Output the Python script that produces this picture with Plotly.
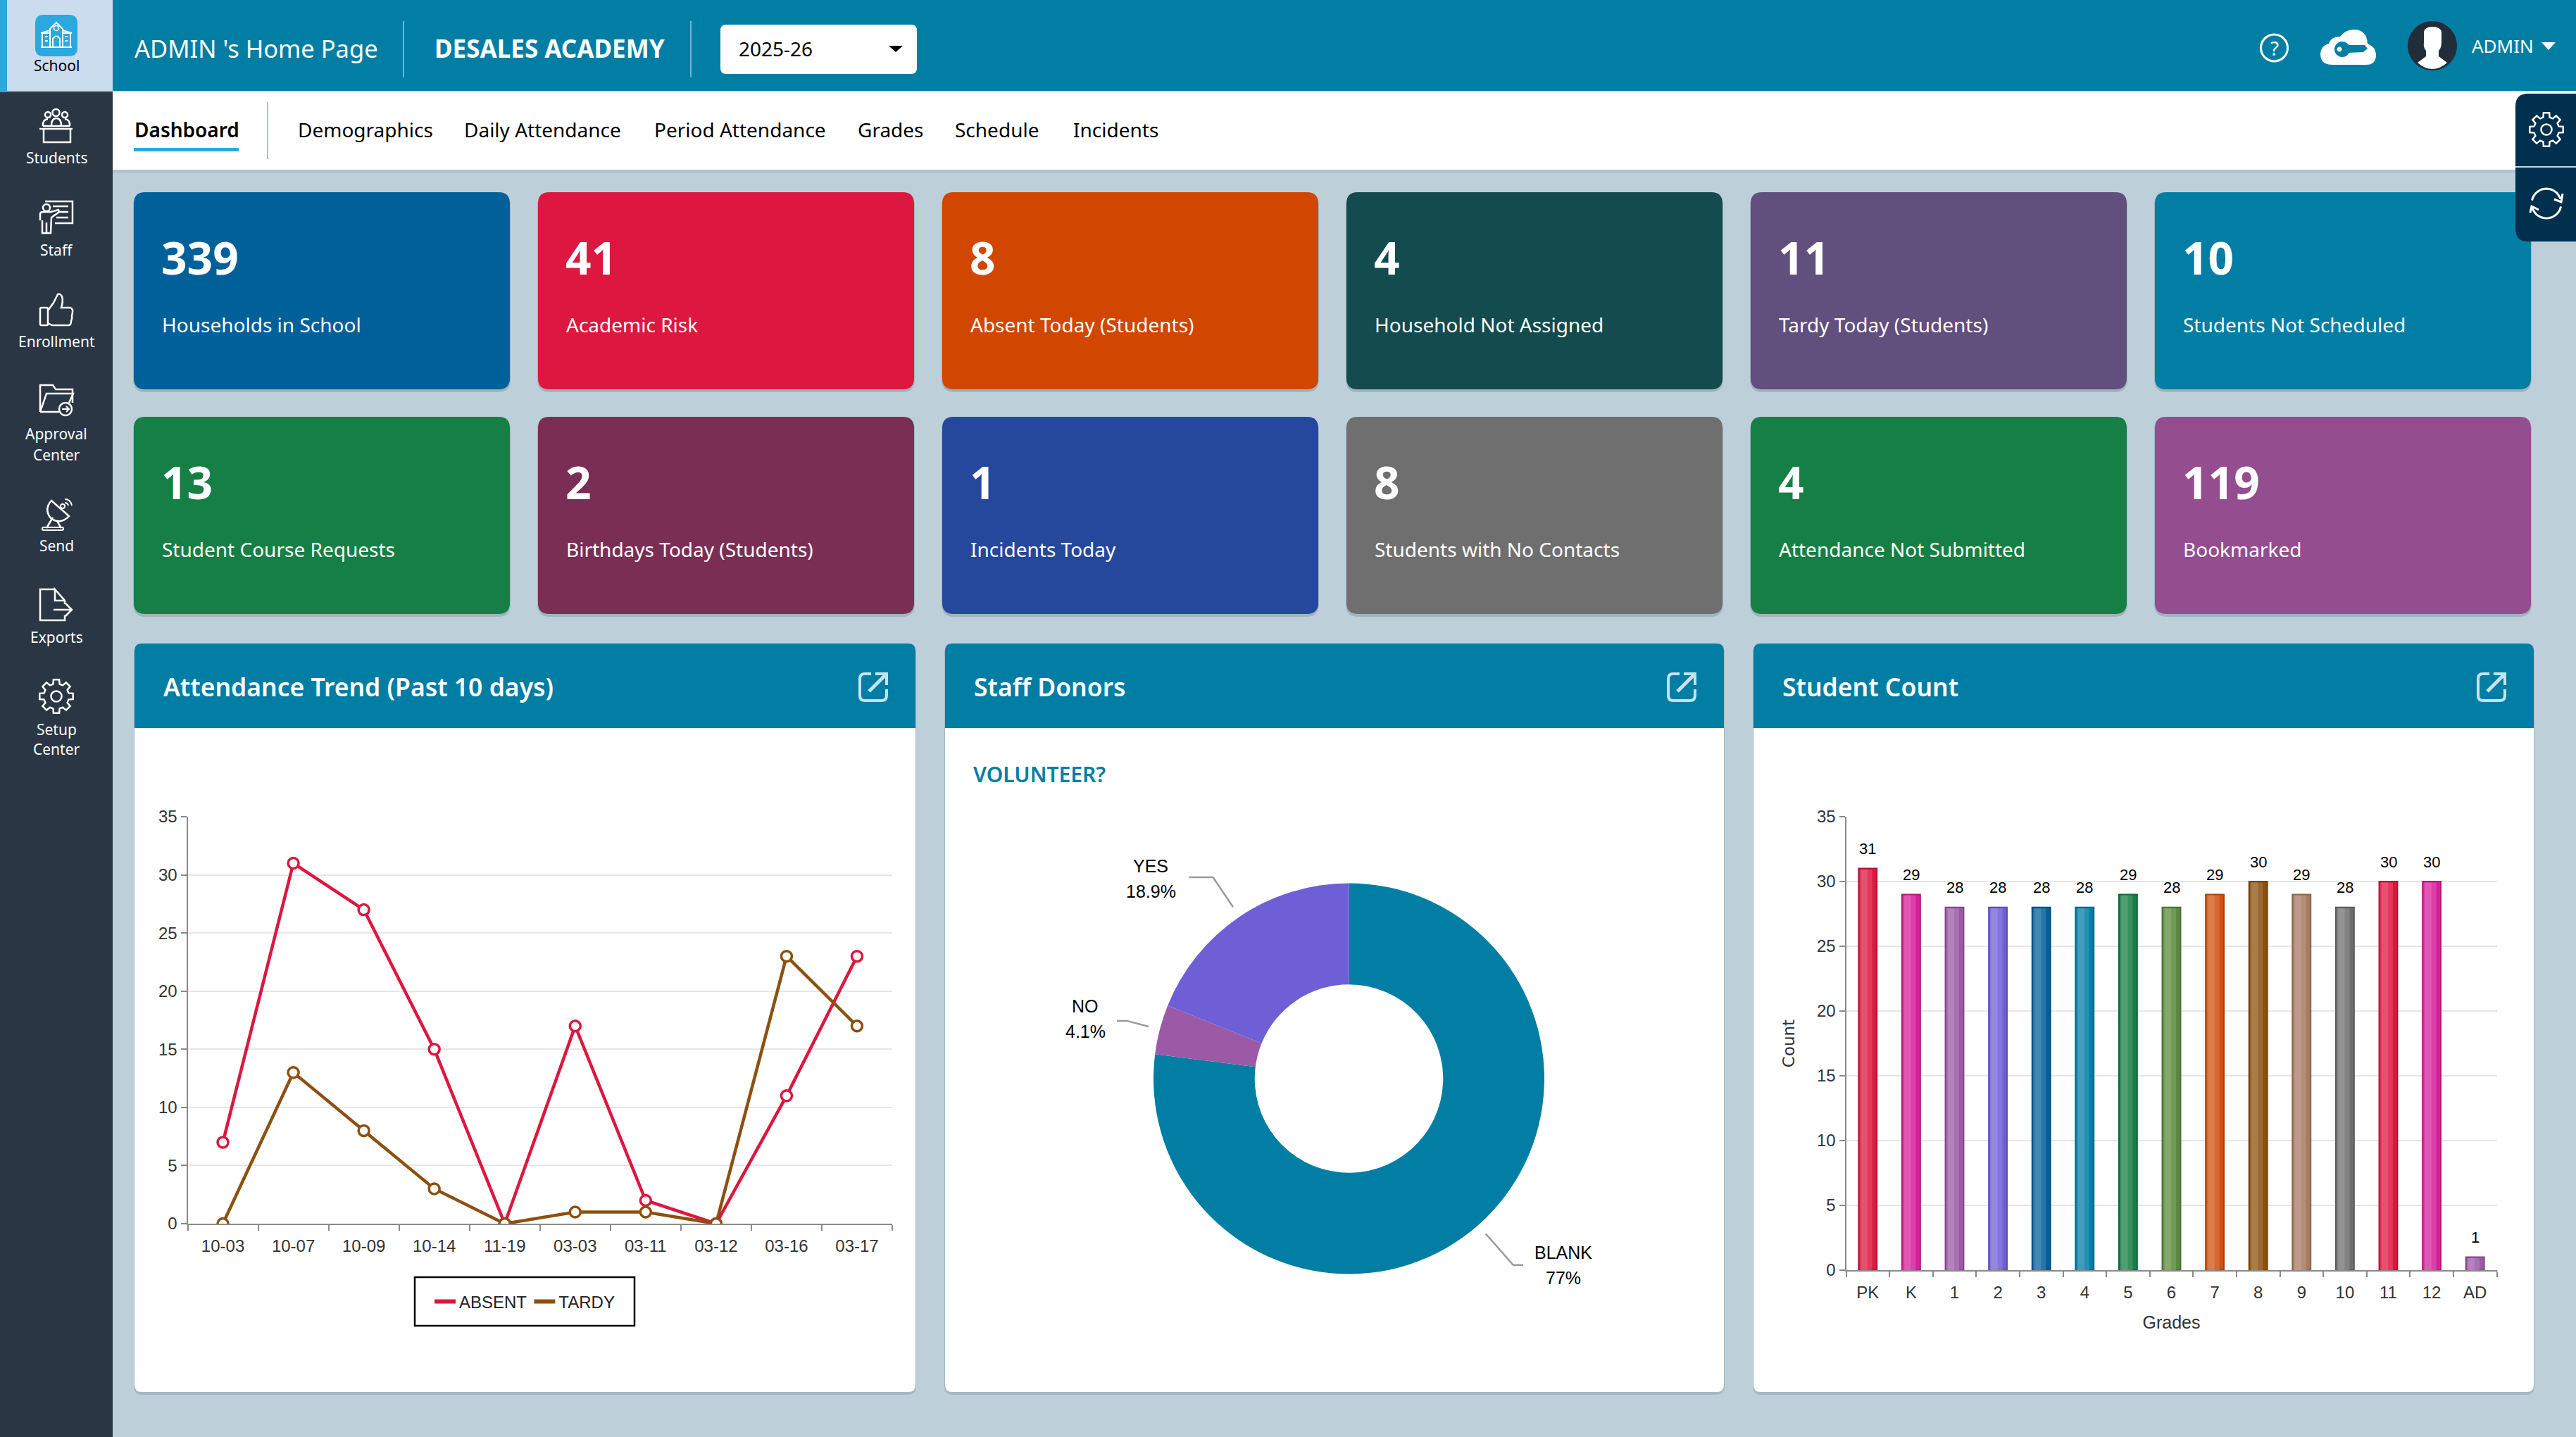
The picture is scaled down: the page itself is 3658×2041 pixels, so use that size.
import re
import numpy as np
import plotly.graph_objects as go

W, H = 3658, 2041
UI_FONT = "Noto Sans"
CHART_FONT = "Liberation Sans"

# data
card_values = ["339", "41", "8", "4", "11", "10", "13", "2", "1", "8", "4", "119"]
card_labels = ["Households in School", "Academic Risk", "Absent Today (Students)",
               "Household Not Assigned", "Tardy Today (Students)", "Students Not Scheduled",
               "Student Course Requests", "Birthdays Today (Students)", "Incidents Today",
               "Students with No Contacts", "Attendance Not Submitted", "Bookmarked"]
card_colors = ["#00609a", "#dd173f", "#d14600", "#134b4e", "#614f7e", "#027ea4",
               "#167f45", "#7a2e53", "#25489c", "#6f6f6f", "#167f45", "#944d8f"]

days = ["10-03", "10-07", "10-09", "10-14", "11-19", "03-03", "03-11", "03-12", "03-16", "03-17"]
absent = [7, 31, 27, 15, 0, 17, 2, 0, 11, 23]
tardy = [0, 13, 8, 3, 0, 1, 1, 0, 23, 17]

volunteer_labels = ["BLANK", "NO", "YES"]
volunteer_pct = [77, 4.1, 18.9]
volunteer_colors = ["#027ea4", "#9b59a6", "#6f5fd6"]

grades = ["PK", "K", "1", "2", "3", "4", "5", "6", "7", "8", "9", "10", "11", "12", "AD"]
counts = [31, 29, 28, 28, 28, 28, 29, 28, 29, 30, 29, 28, 30, 30, 1]
grade_colors = ["#dd173f", "#d6209a", "#9b59a6", "#6f5fd6", "#01609a", "#027ea4", "#167f45", "#5a8a3c",
                "#d14f10", "#8c5010", "#a87a60", "#6f6f6f", "#dd173f", "#d6209a", "#9b59a6"]

nav_items = ["Demographics", "Daily Attendance", "Period Attendance", "Grades", "Schedule", "Incidents"]
nav_x = [422, 658, 928, 1217, 1355, 1523]
side_items = [("Students", 224), ("Staff", 355), ("Enrollment", 485), ("Approval", 616), ("Center", 646),
              ("Send", 775), ("Exports", 905), ("Setup", 1036), ("Center", 1064)]

TEAL = "#027ea4"
shapes = []
notes = []


def to_paper(d):
    # path strings are written in screen pixels, shapes want paper coordinates
    out, is_x = [], True
    for tok in re.findall(r"[A-Za-z]|-?[\d.]+", d):
        if tok.isalpha():
            out.append(tok)
            is_x = True
        else:
            v = float(tok)
            out.append(f"{v / W:.6f}," if is_x else f"{1 - v / H:.6f}")
            is_x = not is_x
    return " ".join(out).replace(", ", ",")


def path(d, fill=None, line=None, width=0):
    shapes.append(dict(type="path", path=to_paper(d), xref="paper", yref="paper", layer="below",
                       fillcolor=fill or "rgba(0,0,0,0)",
                       line=dict(color=line or "rgba(0,0,0,0)", width=width)))


def round_rect(x0, y0, x1, y1, r, tl=True, tr=True, br=True, bl=True):
    d = f"M {x0 + (r if tl else 0)} {y0} L {x1 - (r if tr else 0)} {y0} "
    if tr:
        d += f"Q {x1} {y0} {x1} {y0 + r} "
    d += f"L {x1} {y1 - (r if br else 0)} "
    if br:
        d += f"Q {x1} {y1} {x1 - r} {y1} "
    d += f"L {x0 + (r if bl else 0)} {y1} "
    if bl:
        d += f"Q {x0} {y1} {x0} {y1 - r} "
    d += f"L {x0} {y0 + (r if tl else 0)} "
    if tl:
        d += f"Q {x0} {y0} {x0 + r} {y0} "
    return d + "Z"


def circle(cx, cy, r):
    k = 0.5523 * r
    return (f"M {cx - r} {cy} C {cx - r} {cy - k} {cx - k} {cy - r} {cx} {cy - r} "
            f"C {cx + k} {cy - r} {cx + r} {cy - k} {cx + r} {cy} "
            f"C {cx + r} {cy + k} {cx + k} {cy + r} {cx} {cy + r} "
            f"C {cx - k} {cy + r} {cx - r} {cy + k} {cx - r} {cy} Z")


def gear(cx, cy, r_out, r_in, color, width):
    pts = []
    for i in range(8):
        a = i * np.pi / 4
        for da, r in [(-0.26, r_in), (-0.17, r_out), (0.17, r_out), (0.26, r_in)]:
            pts.append((cx + r * np.sin(a + da), cy - r * np.cos(a + da)))
    d = "M " + " L ".join(f"{x:.1f} {y:.1f}" for x, y in pts) + " Z"
    path(d, line=color, width=width)
    path(circle(cx, cy, r_in * 0.42), line=color, width=width)


def text(x, y, s, size, color="#000000", font=UI_FONT, anchor="left", weight=400):
    notes.append(dict(x=x / W, y=1 - y / H, xref="paper", yref="paper", text=s, showarrow=False,
                      xanchor=anchor, yanchor="middle", align=anchor,
                      font=dict(family=font, size=size, color=color, weight=weight)))


def export_icon(cx, cy):
    c = "#c5e3ee"
    path(f"M {cx - 3} {cy - 19} L {cx - 12} {cy - 19} Q {cx - 19} {cy - 19} {cx - 19} {cy - 12} "
         f"L {cx - 19} {cy + 12} Q {cx - 19} {cy + 19} {cx - 12} {cy + 19} L {cx + 12} {cy + 19} "
         f"Q {cx + 19} {cy + 19} {cx + 19} {cy + 12} L {cx + 19} {cy + 3}", line=c, width=4)
    path(f"M {cx - 6} {cy + 6} L {cx + 17} {cy - 17}", line=c, width=5)
    path(f"M {cx + 3} {cy - 19} L {cx + 19} {cy - 19} L {cx + 19} {cy - 3}", line=c, width=4)


# page frame
path(f"M 0 0 L 160 0 L 160 {H} L 0 {H} Z", fill="#2a3644")
path(f"M 160 0 L {W} 0 L {W} 129 L 160 129 Z", fill=TEAL)
path(f"M 160 130 L {W} 130 L {W} 241 L 160 241 Z", fill="#ffffff")
path(f"M 160 241 L {W} 241 L {W} 246 L 160 246 Z", fill="#b0c4cf")
path("M 10 0 L 160 0 L 160 129 L 10 129 Z", fill="#cbdcee")
path("M 0 0 L 10 0 L 10 129 L 0 129 Z", fill="#29a9e0")
path("M 0 129 L 160 129 L 160 131 L 0 131 Z", fill="#7d8c9c")

# header
for x in [573, 981]:
    path(f"M {x} 30 L {x} 110", line="#6fb3cb", width=2)
text(189, 68, "ADMIN 's Home Page", 34.5, "#ffffff")
text(615, 68, "DESALES ACADEMY", 35, "#ffffff", weight=700)
path(round_rect(1023, 35, 1302, 105, 8), fill="#ffffff")
text(1047, 69, "2025-26", 28)
path("M 1262 65 L 1282 65 L 1272 74 Z", fill="#000000")
path(circle(3229.5, 68, 19), line="#ffffff", width=3)
text(3229.5, 68, "?", 28, "#ffffff", anchor="center")
path("M 3312 92 Q 3295 92 3295 77 Q 3295 65 3307 62 Q 3311 51 3323 52 Q 3331 42 3342 42 "
     "Q 3361 42 3362 62 Q 3374 67 3374 78 Q 3374 92 3360 92 Z", fill="#ffffff")
path(circle(3326, 70, 11), fill=TEAL)
path("M 3332 64 L 3358 64 L 3362 69 L 3356 74 L 3334 75 Z", fill=TEAL)
path(circle(3322, 70, 3.5), fill="#ffffff")
path(circle(3454, 65, 35), fill="#222d3a")
path("M 3442 46 Q 3443 38 3454 38 Q 3466 38 3467 46 L 3467 60 Q 3467 68 3463 72 L 3463 80 L 3475 89 "
     "Q 3465 98 3454 98 Q 3443 98 3433 89 L 3445 80 L 3445 72 Q 3441 68 3442 60 Z", fill="#ffffff")
text(3508, 65, "ADMIN", 26, "#ffffff")
path("M 3609 60 L 3629 60 L 3619 71 Z", fill="#ffffff")

# nav bar
text(189, 184, "Dashboard", 28, weight=600)
path("M 190 210 L 339 210 L 339 215 L 190 215 Z", fill="#29a9e0")
path("M 380 145 L 380 226", line="#b8bdc2", width=2)
for item, x in zip(nav_items, nav_x):
    text(x - 1, 184, item, 28)

# side bar
path(round_rect(50, 21, 110, 80, 12), fill="#29a9e0")
path("M 58 67 L 102 67 M 60 67 L 60 47 L 72 47 M 100 67 L 100 47 L 88 47 M 58 47 L 71 43 M 102 47 L 89 43 "
     "M 71 67 L 71 41 L 80 32 L 89 41 L 89 67 M 75 67 L 75 55 Q 80 48 85 55 L 85 67 "
     "M 64 52 L 68 52 M 64 58 L 68 58 M 92 52 L 96 52 M 92 58 L 96 58", line="#ffffff", width=2)
path(circle(80, 40, 3.5), line="#ffffff", width=1.5)
text(80, 93, "School", 21, "#000000", anchor="center")
for item, y in side_items:
    text(80, y, item, 21, "#ffffff", anchor="center")
# students
w = "#ffffff"
path(circle(68, 163, 4) + circle(79.5, 160, 5) + circle(92, 163, 4), line=w, width=2.5)
path("M 61 179 Q 60 170 68 169 M 73 179 Q 73 168 80 168 Q 87 168 87 179 M 99 179 Q 100 170 92 169 "
     "M 61 179 L 99 179 M 56 183 L 103 183 M 62 183 L 62 202 L 100 202 L 100 183", line=w, width=2.5)
# staff
path("M 64 286 L 103 286 L 103 317 L 78 317 M 75 293 L 97 293 M 85 301 L 97 301 M 80 309 L 97 309",
     line=w, width=2.5)
path(circle(66, 295, 5), line=w, width=2.5)
path("M 57 313 L 57 304 Q 57 301 61 301 L 72 301 L 83 298 L 84 301 L 73 309 L 72 331 L 60 331 L 60 313 "
     "M 66 316 L 66 331", line=w, width=2.5)
# enrollment
path(round_rect(57, 437, 68, 462, 2), line=w, width=2.5)
path("M 68 441 L 76 430 L 82 418 Q 85 416 88 421 Q 90 428 87 437 L 100 437 Q 104 439 103 443 Q 103 446 102 448 "
     "Q 103 452 101 456 Q 101 461 98 462 L 74 462 L 68 459", line=w, width=2.5)
# approval center
path("M 57 585 L 57 547 L 75 547 L 79 553 L 103 553 L 103 572", line=w, width=2.5)
path("M 57 585 L 66 559 L 104 559 L 98 572 M 57 585 L 84 585", line=w, width=2.5)
path(circle(93, 581, 9), line=w, width=2.5)
path("M 88 581 L 98 581 M 94 577 L 98 581 L 94 585", line=w, width=2)
# send
path("M 73 711 L 98 733 Q 86 746 72 736 Q 62 723 73 711 Z", line=w, width=2.5)
path(circle(89, 719, 3), line=w, width=2)
path("M 92 714 Q 96 714 97 718 M 92 709 Q 100 709 102 718", line=w, width=2)
path("M 75 735 L 66 750 M 81 740 L 87 750", line=w, width=2.5)
path(round_rect(60, 749, 90, 753, 2), line=w, width=2)
# exports
path("M 78 837 L 57 837 L 57 881 L 92 881 L 92 874 M 92 858 L 92 853 L 78 837 L 78 853 L 92 853", line=w, width=2.5)
path("M 76 866 L 102 866 M 93 857 L 102 866 L 93 875", line=w, width=2.5)
# setup center
gear(80, 989, 24, 18, w, 2.5)

# stat cards
for i, (val, lab, col) in enumerate(zip(card_values, card_labels, card_colors)):
    x0 = 190 + 574 * (i % 6)
    y0 = 273 + 319 * (i // 6)
    path(round_rect(x0 - 1, y0 + 1, x0 + 535, y0 + 284, 18), fill="rgba(60,80,95,0.22)")
    path(round_rect(x0, y0, x0 + 534, y0 + 280, 16), fill=col)
    text(x0 + 37, y0 + 92, val, 64, "#ffffff", weight=700)
    text(x0 + 38, y0 + 188, lab, 28, "#ffffff")

# floating tab on the right, sits over the last card
path(round_rect(3572, 133, 3690, 343, 18), fill="#01304f")
path("M 3572 237 L 3658 237", line="#c9d6de", width=2)
gear(3616, 184, 24, 18, "#ffffff", 2.5)
for a0, a1 in [(-168, -18), (12, 162)]:
    pts = [(3616 + 21 * np.cos(a), 289 + 21 * np.sin(a)) for a in np.radians(np.linspace(a0, a1, 16))]
    path("M " + " L ".join(f"{x:.1f} {y:.1f}" for x, y in pts), line="#ffffff", width=3)
path("M 3639 275 L 3637 287 L 3627 283", line="#ffffff", width=3)
path("M 3593 302 L 3595 293 L 3605 298", line="#ffffff", width=3)

# chart panels
panel_titles = ["Attendance Trend (Past 10 days)", "Staff Donors", "Student Count"]
panel_x = [191, 1342, 2490]
panel_w = [1109, 1106, 1108]
for title, x0, pw in zip(panel_titles, panel_x, panel_w):
    x1 = x0 + pw
    path(round_rect(x0 - 1, 916, x1 + 1, 1981, 12), fill="rgba(60,80,95,0.18)")
    path(round_rect(x0, 914, x1, 1977, 10), fill="#ffffff")
    path(round_rect(x0, 914, x1, 1034, 10, br=False, bl=False), fill=TEAL)
    text(x0 + 39, 975, title, 35.5, "#ffffff", weight=600)
    export_icon(x1 - 60, 976)
text(1380, 1099, "VOLUNTEER?", 30, TEAL, weight=600)

# legend frame, the entries themselves come from the plotly legend
path("M 589 1814 L 901 1814 L 901 1883 L 589 1883 Z", line="#000000", width=2.5)

fig = go.Figure()

# attendance trend
series_defs = [("ABSENT", absent, "#dd173f"), ("TARDY", tardy, "#8c5010")]
for name, series, col in series_defs:
    fig.add_trace(go.Scatter(x=days, y=series, name=name, mode="lines", showlegend=False,
                             line=dict(color=col, width=4.5), xaxis="x", yaxis="y"))
for name, series, col in series_defs:
    fig.add_trace(go.Scatter(x=days, y=series, name=name, mode="markers", showlegend=False,
                             marker=dict(size=15, color="#ffffff", line=dict(color=col, width=3.5)),
                             xaxis="x", yaxis="y"))
# empty traces, only there for the thicker legend swatches
for name, series, col in series_defs:
    fig.add_trace(go.Scatter(x=[None], y=[None], name=name, mode="lines", line=dict(color=col, width=6),
                             xaxis="x", yaxis="y"))

# staff donors
fig.add_trace(go.Pie(labels=volunteer_labels, values=volunteer_pct, hole=0.482, sort=False,
                     direction="clockwise", rotation=0, textinfo="none", showlegend=False,
                     marker=dict(colors=volunteer_colors),
                     domain=dict(x=[1638 / W, 2193 / W], y=[1 - 1810 / H, 1 - 1254 / H])))

# leader lines follow the slice middles
cx, cy, radius = 1915.5, 1532, 278
elbows = {"BLANK": (75, 14), "NO": (48, -14), "YES": (67, -34)}
label_pos = {"BLANK": (2220, 1779, 1815), "NO": (1541, 1429, 1465), "YES": (1634, 1230, 1266)}
start = 0
for lab, pct in zip(volunteer_labels, volunteer_pct):
    mid = np.radians((start + pct / 2) * 3.6)
    start += pct
    ex, hz = elbows[lab]
    x0, y0 = cx + (radius + 16) * np.sin(mid), cy - (radius + 16) * np.cos(mid)
    x1, y1 = cx + (radius + ex) * np.sin(mid), cy - (radius + ex) * np.cos(mid)
    path(f"M {x0:.1f} {y0:.1f} L {x1:.1f} {y1:.1f} L {x1 + hz:.1f} {y1:.1f}", line="#9a9a9a", width=2.5)
    tx, ty0, ty1 = label_pos[lab]
    text(tx, ty0, lab, 25, "#000000", CHART_FONT, "center")
    text(tx, ty1, f"{pct}%", 25, "#000000", CHART_FONT, "center")


def mix(col, other, t):
    a = [int(col[i:i + 2], 16) for i in (1, 3, 5)]
    b = [int(other[i:i + 2], 16) for i in (1, 3, 5)]
    return "#" + "".join(f"{round(p + (q - p) * t):02x}" for p, q in zip(a, b))


# student count, the lighter overlays give the glass look of the bars
fig.add_trace(go.Bar(x=grades, y=counts, width=0.42, showlegend=False, xaxis="x2", yaxis="y2",
                     marker=dict(color=grade_colors,
                                 line=dict(color=[mix(c, "#000000", 0.18) for c in grade_colors], width=2))))
for offset, wide, amount in [(-0.185, 0.29, 0.14), (-0.155, 0.15, 0.25)]:
    fig.add_trace(go.Bar(x=grades, y=[v - 0.08 for v in counts], width=wide, offset=offset, showlegend=False,
                         xaxis="x2", yaxis="y2",
                         marker=dict(color=[mix(c, "#ffffff", amount) for c in grade_colors], line_width=0)))
# numeric x on a category axis is the category position
for i, v in enumerate(counts):
    notes.append(dict(x=i, y=v, xref="x2", yref="y2", text=str(v), showarrow=False, yshift=28,
                      font=dict(family=CHART_FONT, size=22, color="#000000")))

axis_common = dict(showline=True, linecolor="#8a8a8a", linewidth=2, ticks="outside", tickcolor="#8a8a8a",
                   tickwidth=2, ticklen=8, tickfont=dict(family=CHART_FONT, size=24, color="#333333"))

fig.update_layout(
    width=W, height=H, autosize=False, margin=dict(l=0, r=0, t=0, b=0, autoexpand=False),
    paper_bgcolor="#bdd0da", plot_bgcolor="rgba(0,0,0,0)", barmode="overlay",
    shapes=shapes, annotations=notes, hovermode=False,
    xaxis=dict(domain=[266.5 / W, 1267 / W], anchor="y", type="category", categoryorder="array", categoryarray=days,
               tickson="boundaries", range=[-0.5, 9.5], showgrid=False, ticklabelstandoff=9, **axis_common),
    yaxis=dict(domain=[1 - 1738 / H, 1 - 1160 / H], anchor="x", range=[0, 35], dtick=5, zeroline=False,
               showgrid=True, gridcolor="#e6e6e6", gridwidth=2, **axis_common),
    xaxis2=dict(domain=[2621.5 / W, 3545.5 / W], anchor="y2", type="category", tickson="boundaries",
                range=[-0.5, 14.5], showgrid=False, ticklabelstandoff=9,
                title=dict(text="Grades", font=dict(family=CHART_FONT, size=25, color="#333333"), standoff=22),
                **axis_common),
    yaxis2=dict(domain=[1 - 1804 / H, 1 - 1160 / H], anchor="x2", range=[0, 35], dtick=5, zeroline=False,
                showgrid=True, gridcolor="#e6e6e6", gridwidth=2,
                title=dict(text="Count", font=dict(family="DejaVu Sans", size=23, color="#333333"), standoff=25),
                **axis_common),
    legend=dict(orientation="h", x=745 / W, y=1 - 1849 / H, xanchor="center", yanchor="middle",
                bgcolor="rgba(0,0,0,0)", borderwidth=0, itemwidth=30,
                font=dict(family=CHART_FONT, size=24, color="#222222")),
)

fig.write_html("out.html", config=dict(displayModeBar=False),
               post_script="document.body.style.margin='0';")
